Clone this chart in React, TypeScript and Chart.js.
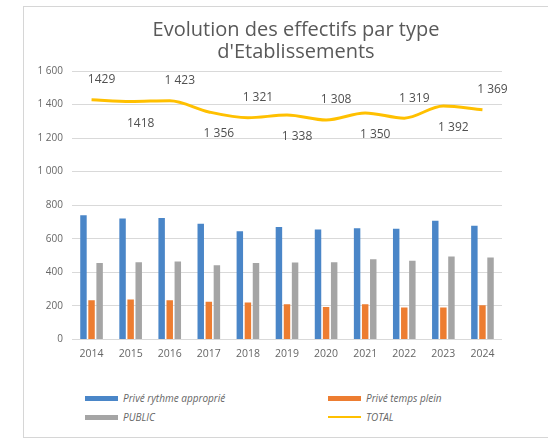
import React, { useEffect, useRef } from "react";
import { Chart, registerables } from "chart.js";

Chart.register(...registerables);

// Années
const years = ["2014", "2015", "2016", "2017", "2018", "2019", "2020", "2021", "2022", "2023", "2024"];

// Effectifs par type d'établissement
const priveRythme = [740, 720, 724, 690, 645, 670, 655, 662, 660, 708, 677];
const priveTempsPlein = [234, 238, 234, 224, 220, 210, 193, 210, 190, 190, 204];
const publicEff = [455, 460, 465, 442, 456, 458, 460, 478, 469, 494, 488];
const total = [1429, 1418, 1423, 1356, 1321, 1338, 1308, 1350, 1319, 1392, 1369];
const totalLabels = ["1429", "1418", "1 423", "1 356", "1 321", "1 338", "1 308", "1 350", "1 319", "1 392", "1 369"];

const yTicks = [0, 200, 400, 600, 800, 1000, 1200, 1400, 1600];
const yTickLabels = ["0", "200", "400", "600", "800", "1 000", "1 200", "1 400", "1 600"];

const titleLines = ["Evolution des effectifs par type", "d'Etablissements"];

const BLUE = "#4A86C8";
const ORANGE = "#ED7D31";
const GRAY = "#A5A5A5";
const YELLOW = "#FFC000";
const FONT = "'Open Sans', 'Noto Sans', sans-serif";

// Titre sur deux lignes, centré sur le cadre du graphique
const titlePlugin = {
  id: "twoLineTitle",
  afterDraw(chart: any) {
    const ctx = chart.ctx;
    ctx.save();
    ctx.font = `20px ${FONT}`;
    ctx.fillStyle = "#595959";
    ctx.textAlign = "center";
    ctx.textBaseline = "middle";
    titleLines.forEach((line, i) => {
      ctx.fillText(line, 296, 30 + i * 22);
    });
    ctx.restore();
  },
};

// Étiquettes des totaux, alternées au-dessus / en dessous de la courbe
const totalLabelPlugin = {
  id: "totalLabels",
  afterDatasetsDraw(chart: any) {
    const meta = chart.getDatasetMeta(3);
    const ctx = chart.ctx;
    ctx.save();
    ctx.font = `12px ${FONT}`;
    ctx.fillStyle = "#505050";
    ctx.textAlign = "center";
    ctx.textBaseline = "middle";
    meta.data.forEach((pt: any, i: number) => {
      const dy = i % 2 === 0 ? -20 : 22;
      ctx.fillText(totalLabels[i], pt.x + 10, pt.y + dy);
    });
    ctx.restore();
  },
};

function EffectifsChart() {
  const ref = useRef<HTMLCanvasElement | null>(null);

  useEffect(() => {
    if (!ref.current) return;
    const chart = new Chart(ref.current, {
      type: "bar",
      data: {
        labels: years,
        datasets: [
          {
            type: "bar",
            label: "Privé rythme approprié",
            data: priveRythme,
            backgroundColor: BLUE,
            categoryPercentage: 0.62,
            barPercentage: 0.8,
            order: 2,
          },
          {
            type: "bar",
            label: "Privé temps plein",
            data: priveTempsPlein,
            backgroundColor: ORANGE,
            categoryPercentage: 0.62,
            barPercentage: 0.8,
            order: 2,
          },
          {
            type: "bar",
            label: "PUBLIC",
            data: publicEff,
            backgroundColor: GRAY,
            categoryPercentage: 0.62,
            barPercentage: 0.8,
            order: 2,
          },
          {
            type: "line",
            label: "TOTAL",
            data: total,
            borderColor: YELLOW,
            backgroundColor: YELLOW,
            borderWidth: 3,
            pointRadius: 0,
            tension: 0.4,
            cubicInterpolationMode: "monotone",
            order: 1,
          } as any,
        ],
      },
      options: {
        animation: false,
        responsive: false,
        maintainAspectRatio: false,
        layout: { padding: { left: 22, right: 46, top: 71, bottom: 0 } },
        plugins: {
          legend: { display: false },
          tooltip: { enabled: false },
          title: { display: false },
        },
        scales: {
          x: {
            grid: { display: false, drawTicks: false },
            border: { display: false },
            ticks: {
              color: "#666",
              font: { family: FONT, size: 10.5 },
              padding: 8,
              maxRotation: 0,
            },
          },
          y: {
            min: 0,
            max: 1600,
            afterFit: (scale: any) => {
              scale.width = 50;
            },
            afterBuildTicks: (scale: any) => {
              scale.ticks = yTicks.map((v) => ({ value: v }));
            },
            grid: { color: "#D9D9D9", drawTicks: false },
            border: { display: false },
            ticks: {
              color: "#666",
              font: { family: FONT, size: 10 },
              padding: 9,
              callback: (v: any) => yTickLabels[yTicks.indexOf(Number(v))] ?? String(v),
            },
          },
        },
      },
      plugins: [totalLabelPlugin, titlePlugin],
    });
    return () => chart.destroy();
  }, []);

  return <canvas ref={ref} width={548} height={368} style={{ position: "absolute", left: 0, top: 0 }} />;
}

const legendItems = [
  { label: "Privé rythme approprié", color: BLUE, kind: "bar", x: 85, y: 398 },
  { label: "Privé temps plein", color: ORANGE, kind: "bar", x: 328, y: 398 },
  { label: "PUBLIC", color: GRAY, kind: "bar", x: 85, y: 417 },
  { label: "TOTAL", color: YELLOW, kind: "line", x: 328, y: 417 },
];

export default function App() {
  return (
    <div style={{ position: "absolute", left: 0, top: 0, width: 548, height: 448, background: "#fff", overflow: "hidden" }}>
      <div
        style={{
          position: "absolute",
          left: 23,
          top: 6,
          width: 540,
          height: 432,
          border: "1px solid #D6D6D6",
          boxSizing: "border-box",
        }}
      />
      <EffectifsChart />
      {legendItems.map((it) => (
        <div
          key={it.label}
          style={{
            position: "absolute",
            left: it.x,
            top: it.y - 8,
            height: 16,
            display: "flex",
            alignItems: "center",
            fontFamily: FONT,
            fontSize: 10,
            fontStyle: "italic",
            color: "#666",
            whiteSpace: "nowrap",
          }}
        >
          <span
            style={{
              display: "inline-block",
              width: 33,
              height: it.kind === "bar" ? 5 : 2,
              background: it.color,
              marginRight: 5,
            }}
          />
          {it.label}
        </div>
      ))}
    </div>
  );
}
